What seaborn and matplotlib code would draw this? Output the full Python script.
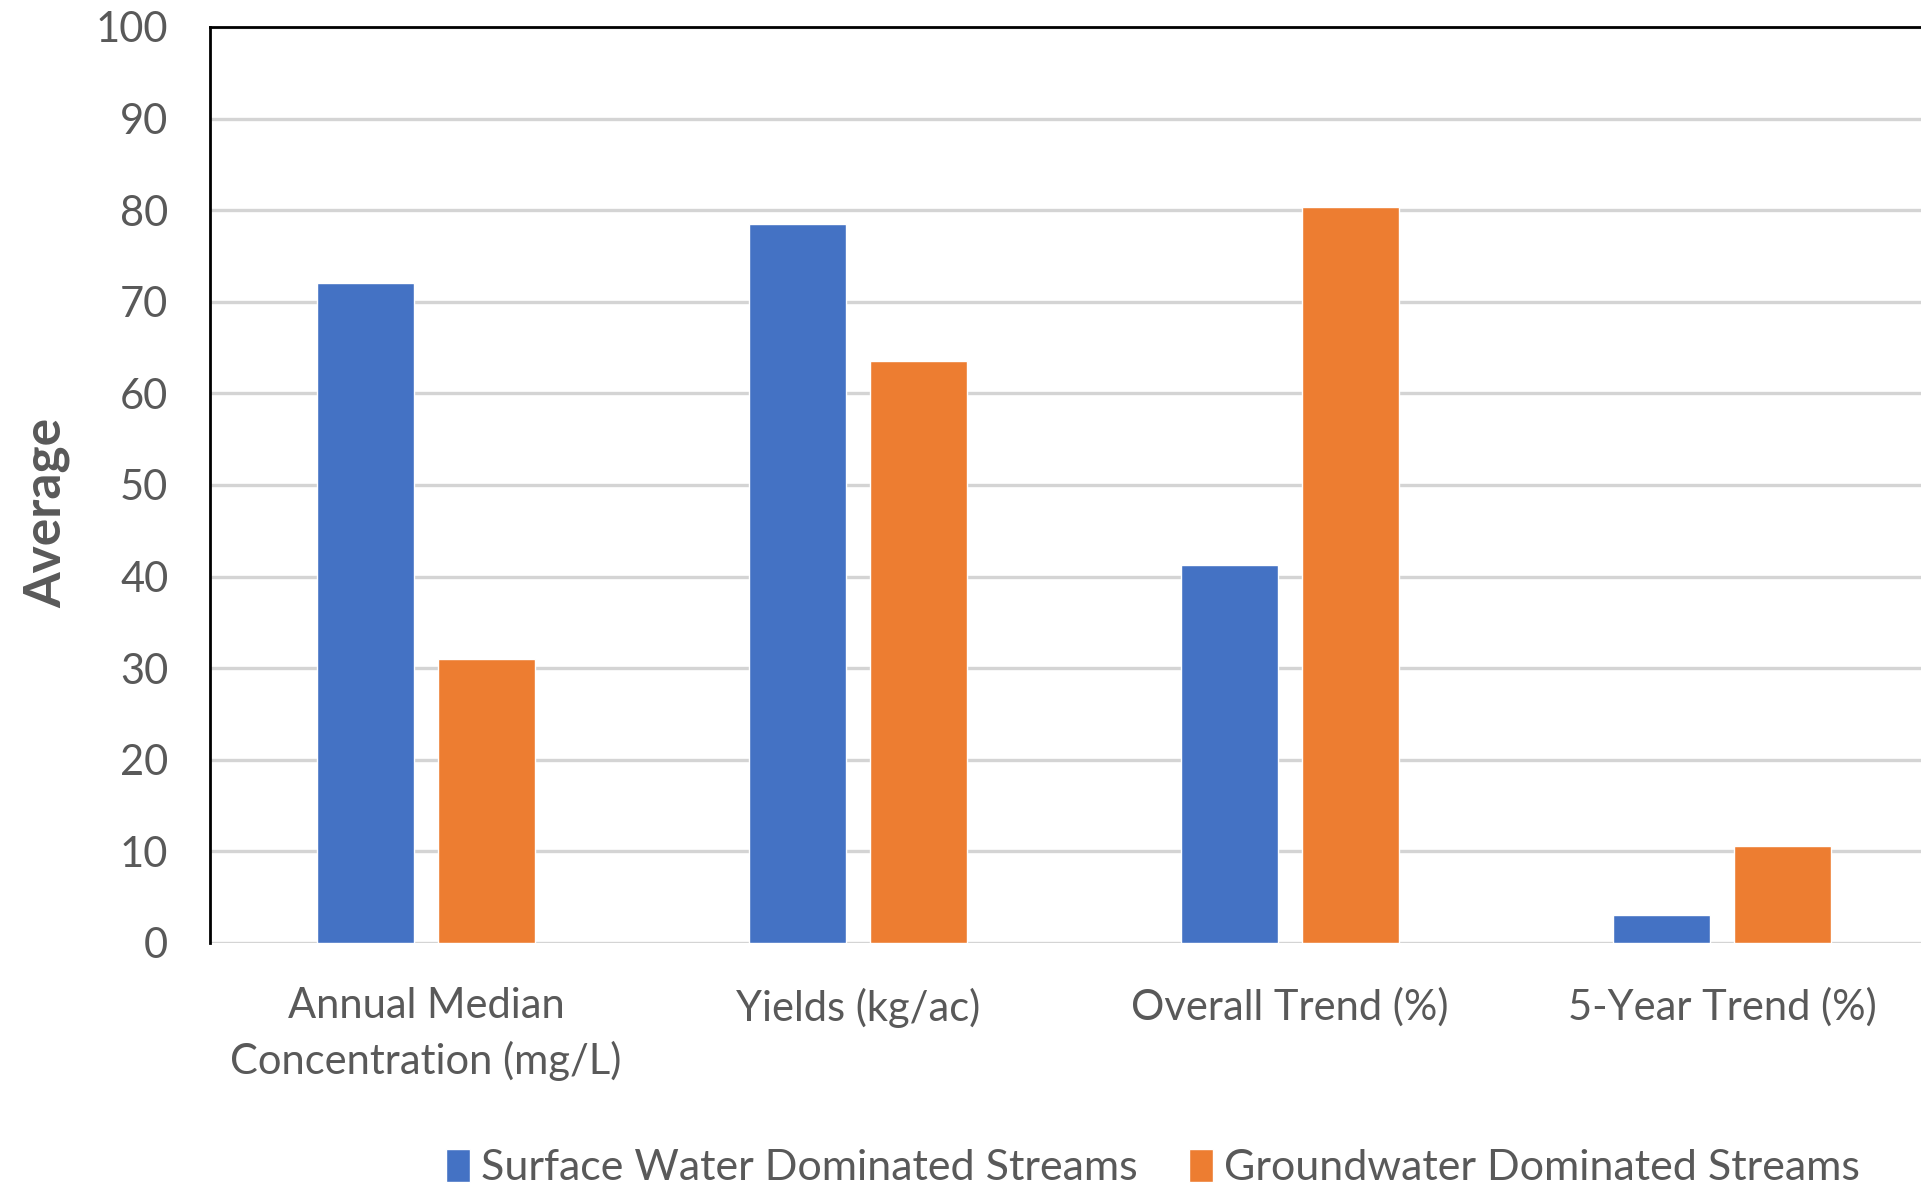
import pandas as pd
import matplotlib.pyplot as plt
import seaborn as sns

# Values
categories = ['Annual Median\nConcentration (mg/L)', 'Yields (kg/ac)',
              'Overall Trend (%)', '5-Year Trend (%)']
surface_water = [72.1, 78.5, 41.3, 3.1]
groundwater = [31.0, 63.5, 80.4, 10.6]
series_names = ['Surface Water Dominated Streams', 'Groundwater Dominated Streams']
y_ticks = [0, 10, 20, 30, 40, 50, 60, 70, 80, 90, 100]

colors = ['#4472C4', '#ED7D31']
text_color = '#595959'

# Long format table for seaborn
df = pd.DataFrame({
    'category': categories * 2,
    'series': [series_names[0]] * 4 + [series_names[1]] * 4,
    'value': surface_water + groundwater,
})

sns.set_style('white')
plt.rcParams['font.family'] = ['Lato', 'DejaVu Sans']

fig = plt.figure(figsize=(19.21, 11.9), dpi=100)
ax = fig.add_axes([210 / 1921, 1 - 943 / 1190, 1728 / 1921, 916 / 1190])

sns.barplot(data=df, x='category', y='value', hue='series', order=categories,
            hue_order=series_names, palette=colors, width=0.56, gap=0.2,
            saturation=1, ax=ax, zorder=3)

ax.set_xlim(-0.5, 3.5)
ax.set_ylim(0, 100)
ax.set_yticks(y_ticks)
ax.yaxis.grid(True, color='#d4d4d4', linewidth=2.4, zorder=0)
ax.set_axisbelow(True)

# Excel-style frame: black top/left, no right, grey baseline
for side in ['right', 'bottom']:
    ax.spines[side].set_visible(False)
for side in ['top', 'left']:
    ax.spines[side].set_color('black')
    ax.spines[side].set_linewidth(2)

ax.tick_params(axis='both', length=0, labelsize=30, colors=text_color)
ax.tick_params(axis='y', pad=30)
ax.tick_params(axis='x', pad=32)
for lbl in ax.get_xticklabels():
    lbl.set_linespacing(1.45)
ax.set_xlabel('')
ax.set_ylabel('Average', fontsize=37, fontweight='bold', color=text_color)
ax.yaxis.set_label_coords(-0.081, 0.47)

handles, labels = ax.get_legend_handles_labels()
ax.legend(handles, labels, loc='center', bbox_to_anchor=(1153 / 1921, 1 - 1168 / 1190),
          bbox_transform=fig.transFigure, ncol=2, frameon=False, fontsize=31,
          labelcolor=text_color, handlelength=0.55, handleheight=0.8,
          handletextpad=0.25, columnspacing=1.2)

plt.savefig('out.png', dpi=100)
plt.close()
